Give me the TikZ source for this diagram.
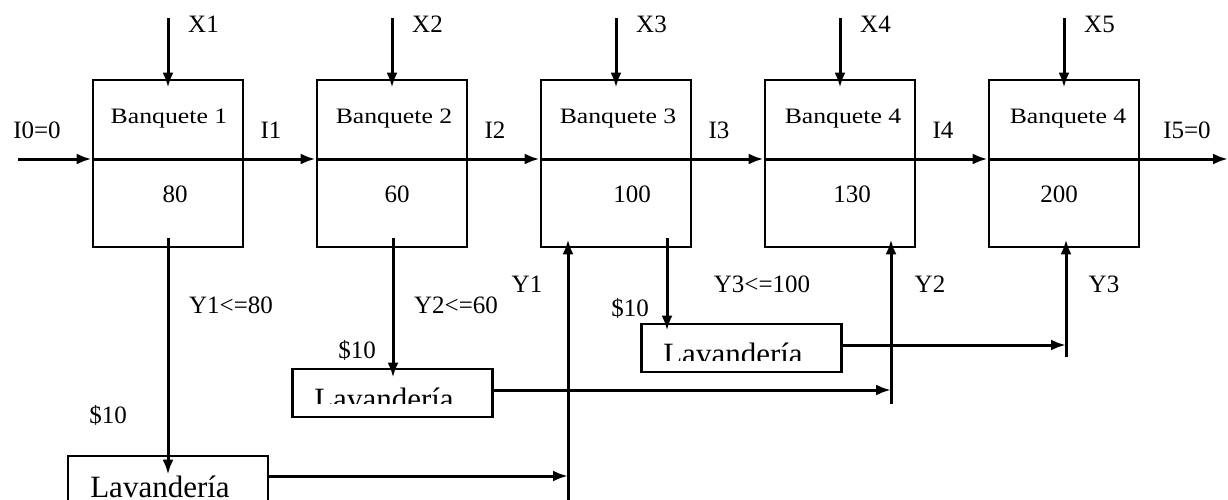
\documentclass[tikz,border=0pt]{standalone}
\usepackage{fontspec}
\setmainfont{Liberation Serif}
\usetikzlibrary{arrows.meta}
\begin{document}
\begin{tikzpicture}[x=1pt,y=-1pt,
  ln/.style={line width=3pt},
  arr/.style={ln,-{Latex[length=15pt,width=11pt]}},
  box/.style={draw,line width=2.8pt,minimum width=150pt,minimum height=167pt,inner sep=0pt},
  lav/.style={draw,line width=2.8pt,minimum width=200pt,minimum height=48pt,inner sep=0pt},
  lbl/.style={inner sep=0pt,font=\fontsize{25}{30}\selectfont},
  bq/.style={inner sep=0pt,font=\fontsize{22}{26}\selectfont},
  lt/.style={inner sep=0pt,anchor=base,font=\fontsize{31}{36}\selectfont}]
\clip (0,0) rectangle (1228,499);
\fill[white] (0,0) rectangle (1228,499);
% boxes
\foreach \i/\x in {1/168,2/392,3/616,4/840,5/1064}{
  \node[box] (b\i) at (\x,163.5) {};
  \coordinate (x\i) at (\x,18);
  \node[lbl,anchor=west] (xl\i) at (\x+20,24) {X\i};
  \draw[arr] (x\i) -- ([yshift=-9pt]b\i.north);
}
\foreach \i/\x/\t in {1/169/Banquete 1,2/394/Banquete 2,3/618/Banquete 3,4/843/Banquete 4,5/1068/Banquete 4}{
  \node[bq] (bt\i) at (\x,119) {\scalebox{1.17}[1]{\t}};
}
\foreach \i/\x/\t in {1/175/80,2/397/60,3/632/100,4/852/130,5/1059/200}{
  \node[lbl] (n\i) at (\x,194) {\t};
}
% main flow
\coordinate (in0) at (18,159);
\coordinate (out) at (1228,159);
\draw[arr] (in0) -- (in0 -| b1.west);
\foreach \i/\j in {1/2,2/3,3/4,4/5}{
  \draw[ln] (in0 -| b\i.west) -- (in0 -| b\i.east);
  \draw[arr] (in0 -| b\i.east) -- (in0 -| b\j.west);
}
\draw[ln] (in0 -| b5.west) -- (in0 -| b5.east);
\draw[arr] (in0 -| b5.east) -- (out);
\node[lbl] (i0) at (37,130) {I0=0};
\node[lbl] (i1) at (271,130) {I1};
\node[lbl] (i2) at (495,130) {I2};
\node[lbl] (i3) at (719,130) {I3};
\node[lbl] (i4) at (943,130) {I4};
\node[lbl] (i5) at (1187,130) {I5=0};
% laundries
\node[lav] (l1) at (168,480) {};
\node[lav] (l2) at (392.5,393) {};
\node[lav] (l3) at (741.5,348) {};
\node[lt] (lt1) at (160,497) {Lavandería};
\begin{scope}
  \clip (l2.north west) rectangle ([yshift=-36pt]l2.north east);
  \node[lt] (lt2) at (384,409) {Lavandería};
\end{scope}
\begin{scope}
  \clip (l3.north west) rectangle ([yshift=-38pt]l3.north east);
  \node[lt] (lt3) at (733,364) {Lavandería};
\end{scope}
% down arrows to laundries
\draw[arr] ([yshift=10pt]b1.south) -- ([yshift=-20pt]l1.north);
\draw[arr] ([xshift=1pt,yshift=10pt]b2.south) -- ([xshift=1pt,yshift=-10pt]b2.south |- l2.north);
\draw[arr] ([xshift=51pt,yshift=10pt]b3.south) -- ([xshift=51pt,yshift=-8pt]b3.south |- l3.north);
% returns
\coordinate (y1b) at (568,505);
\coordinate (y2b) at (891,404);
\coordinate (y3b) at (1066,357);
\draw[arr] (y1b) -- ([xshift=-48pt,yshift=9pt]b3.south);
\draw[arr] (y2b) -- ([xshift=51pt,yshift=9pt]b4.south);
\draw[arr] (y3b) -- ([xshift=2pt,yshift=9pt]b5.south);
\draw[arr] ([yshift=4pt]l1.east) -- ([yshift=4pt]l1.east -| y1b);
\draw[arr] ([yshift=3pt]l2.east) -- ([yshift=3pt]l2.east -| y2b);
\draw[arr] ([yshift=3pt]l3.east) -- ([yshift=3pt]l3.east -| y3b);
% labels
\node[lbl] (ya) at (231,305) {Y1<=80};
\node[lbl] (yb) at (456,305) {Y2<=60};
\node[lbl] (yc) at (527,284) {Y1};
\node[lbl] (yd) at (762,284) {Y3<=100};
\node[lbl] (ye) at (930,284) {Y2};
\node[lbl] (yf) at (1104,284) {Y3};
\node[lbl] (c1) at (108,415) {\$10};
\node[lbl] (c2) at (357,350) {\$10};
\node[lbl] (c3) at (630,308) {\$10};
\end{tikzpicture}
\end{document}
